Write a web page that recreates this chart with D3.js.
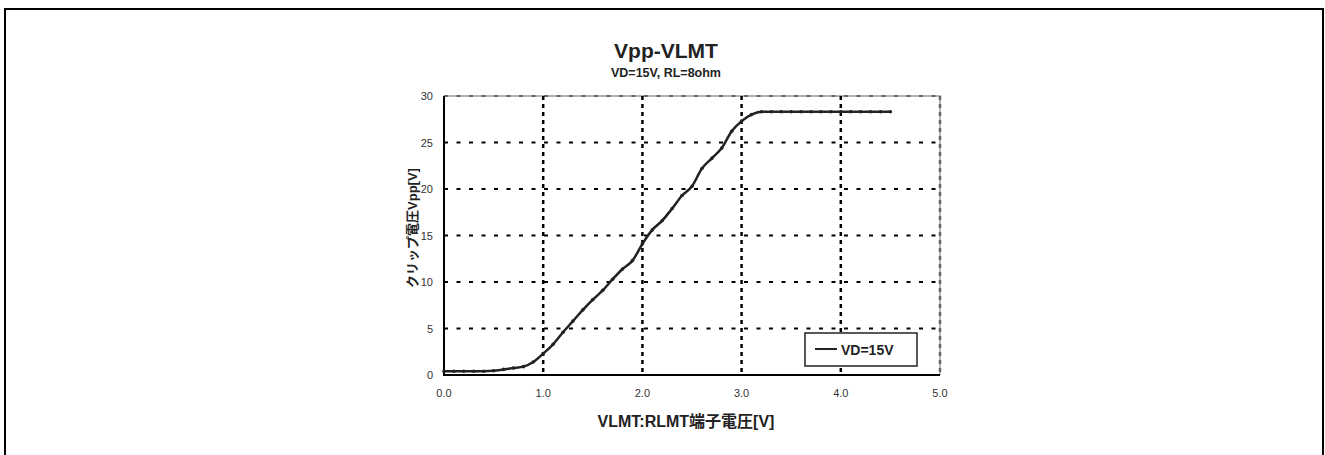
<!DOCTYPE html>
<html>
<head>
<meta charset="utf-8">
<script src="https://cdn.jsdelivr.net/npm/d3@7"></script>
<style>
  body { margin: 0; background: #fff; }
  text { font-family: "Liberation Sans", "Noto Sans CJK JP", sans-serif; }
</style>
</head>
<body>
<svg id="chart" width="1325" height="455"></svg>
<script>
// Chart text
const chartTitle = 'Vpp-VLMT';
const chartSubtitle = 'VD=15V, RL=8ohm';
const xAxisTitle = 'VLMT:RLMT端子電圧[V]';
const yAxisTitle = 'クリップ電圧Vpp[V]';
const seriesName = 'VD=15V';

// Axis ticks
const xTicks = [0, 1, 2, 3, 4, 5];
const yTicks = [0, 5, 10, 15, 20, 25, 30];

// Series: VLMT [V] vs clip voltage Vpp [V]
const vlmt = [0.0, 0.1, 0.2, 0.3, 0.4, 0.5, 0.6, 0.7, 0.8, 0.9,
              1.0, 1.1, 1.2, 1.3, 1.4, 1.5, 1.6, 1.7, 1.8, 1.9,
              2.0, 2.1, 2.2, 2.3, 2.4, 2.5, 2.6, 2.7, 2.8, 2.9,
              3.0, 3.1, 3.2, 3.3, 3.4, 3.5, 3.6, 3.7, 3.8, 3.9,
              4.0, 4.1, 4.2, 4.3, 4.4, 4.5];
const vpp = [0.4, 0.4, 0.4, 0.4, 0.4, 0.45, 0.6, 0.75, 0.9, 1.4,
             2.3, 3.3, 4.6, 5.8, 7.0, 8.1, 9.1, 10.3, 11.4, 12.3,
             14.1, 15.6, 16.6, 17.9, 19.3, 20.3, 22.2, 23.3, 24.4, 26.2,
             27.3, 28.0, 28.3, 28.3, 28.3, 28.3, 28.3, 28.3, 28.3, 28.3,
             28.3, 28.3, 28.3, 28.3, 28.3, 28.3];

const svg = d3.select('#chart');

// Outer frame
svg.append('rect')
  .attr('x', 5).attr('y', 9)
  .attr('width', 1318).attr('height', 470)
  .attr('fill', 'none')
  .attr('stroke', '#000')
  .attr('stroke-width', 2);

// Plot area
const plot = { left: 444, right: 940, top: 96, bottom: 375 };

const x = d3.scaleLinear().domain([0, 5]).range([plot.left, plot.right]);
const y = d3.scaleLinear().domain([0, 30]).range([plot.bottom, plot.top]);

// Top / right border (grey)
svg.append('path')
  .attr('d', `M${plot.left},${plot.top}H${plot.right}V${plot.bottom}`)
  .attr('fill', 'none')
  .attr('stroke', '#999')
  .attr('stroke-width', 1.5);

// Horizontal grid lines
svg.append('g').selectAll('line')
  .data(yTicks.filter(d => d > 0))
  .join('line')
  .attr('x1', plot.left).attr('x2', plot.right)
  .attr('y1', d => y(d)).attr('y2', d => y(d))
  .attr('stroke', d => d === 30 ? '#666' : '#000')
  .attr('stroke-width', 2)
  .attr('stroke-dasharray', '4,8.5');

// Vertical grid lines
svg.append('g').selectAll('line')
  .data(xTicks.filter(d => d > 0))
  .join('line')
  .attr('x1', d => x(d)).attr('x2', d => x(d))
  .attr('y1', plot.top).attr('y2', plot.bottom)
  .attr('stroke', d => d === 5 ? '#666' : '#000')
  .attr('stroke-width', 2.5)
  .attr('stroke-dasharray', '4,4');

// Axes lines (black, solid)
svg.append('path')
  .attr('d', `M${plot.left},${plot.top}V${plot.bottom}H${plot.right}`)
  .attr('fill', 'none')
  .attr('stroke', '#000')
  .attr('stroke-width', 2);

// Tick labels
svg.append('g').selectAll('text')
  .data(yTicks)
  .join('text')
  .attr('x', 433)
  .attr('y', d => y(d) + 4)
  .attr('text-anchor', 'end')
  .attr('font-size', 11)
  .attr('fill', '#333')
  .text(d => d);

svg.append('g').selectAll('text')
  .data(xTicks)
  .join('text')
  .attr('x', d => x(d))
  .attr('y', 397)
  .attr('text-anchor', 'middle')
  .attr('font-size', 11)
  .attr('fill', '#333')
  .text(d => d3.format('.1f')(d));

// Series line
const points = vlmt.map((v, i) => ({ x: v, y: vpp[i] }));

const line = d3.line()
  .x(d => x(d.x))
  .y(d => y(d.y))
  .curve(d3.curveMonotoneX);

svg.append('path')
  .datum(points)
  .attr('d', line)
  .attr('fill', 'none')
  .attr('stroke', '#222')
  .attr('stroke-width', 2.5)
  .attr('stroke-linejoin', 'round');

svg.append('g').selectAll('circle')
  .data(points)
  .join('circle')
  .attr('cx', d => x(d.x))
  .attr('cy', d => y(d.y))
  .attr('r', 1.8)
  .attr('fill', '#222');

// Titles
svg.append('text')
  .attr('x', 666).attr('y', 58)
  .attr('text-anchor', 'middle')
  .attr('font-size', 21)
  .attr('font-weight', 'bold')
  .attr('fill', '#222')
  .text(chartTitle);

svg.append('text')
  .attr('x', 666).attr('y', 77)
  .attr('text-anchor', 'middle')
  .attr('font-size', 12.5)
  .attr('font-weight', 'bold')
  .attr('fill', '#222')
  .text(chartSubtitle);

svg.append('text')
  .attr('x', 686).attr('y', 427)
  .attr('text-anchor', 'middle')
  .attr('font-size', 16)
  .attr('font-weight', 'bold')
  .attr('fill', '#222')
  .text(xAxisTitle);

svg.append('text')
  .attr('transform', 'translate(417,228) rotate(-90)')
  .attr('text-anchor', 'middle')
  .attr('font-size', 13)
  .attr('font-weight', 'bold')
  .attr('fill', '#222')
  .text(yAxisTitle);

// Legend
const legend = svg.append('g').attr('transform', 'translate(805,333)');
legend.append('rect')
  .attr('width', 112).attr('height', 33)
  .attr('fill', '#fff')
  .attr('stroke', '#222')
  .attr('stroke-width', 1.5);
legend.append('line')
  .attr('x1', 10).attr('x2', 32)
  .attr('y1', 16).attr('y2', 16)
  .attr('stroke', '#222')
  .attr('stroke-width', 2);
legend.append('text')
  .attr('x', 36).attr('y', 22)
  .attr('font-size', 14)
  .attr('font-weight', 'bold')
  .attr('fill', '#222')
  .text(seriesName);
</script>
</body>
</html>
